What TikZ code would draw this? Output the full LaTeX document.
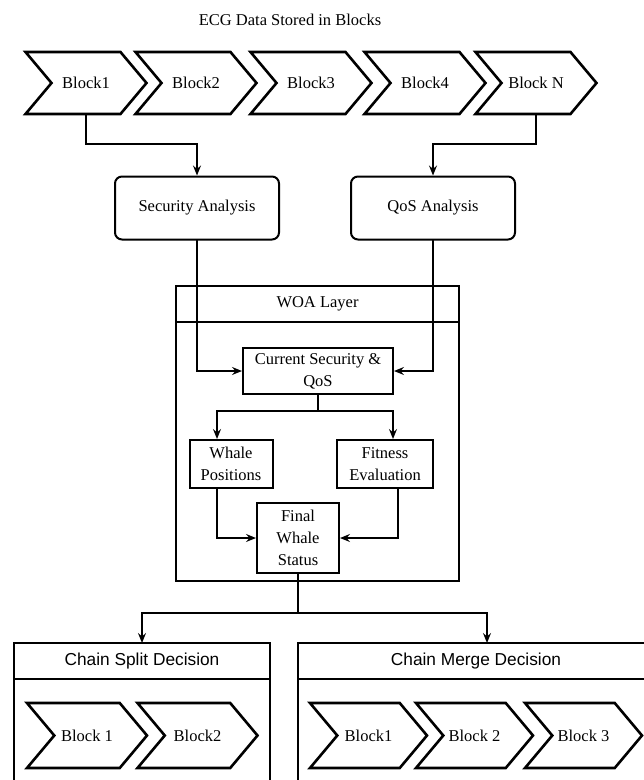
\documentclass[tikz,border=0pt]{standalone}
\usepackage{fontspec}
\setmainfont{Liberation Serif}
\newfontfamily\arialfont{Liberation Sans}
\usetikzlibrary{arrows.meta,shapes.symbols}

\begin{document}
\begin{tikzpicture}[
  x=1pt, y=-1pt,
  >={Stealth[length=10pt,width=8pt,inset=3.5pt]},
  line cap=round,
  every node/.style={font=\fontsize{16.5}{22}\selectfont},
  chevron/.style={signal, signal from=west, signal to=east, signal pointer angle=100, draw, line width=2.6pt, outer sep=0pt, minimum width=121pt, minimum height=62pt, inner sep=0pt},
  analysis/.style={rectangle, rounded corners=7pt, draw, line width=2pt, minimum width=164pt, minimum height=63pt},
  procbox/.style={rectangle, draw, line width=2pt, align=center, inner sep=1pt},
  header/.style={rectangle, draw, line width=2pt, outer sep=0pt},
  frame/.style={rectangle, draw, line width=2pt, outer sep=0pt},
  sanshead/.style={header, font=\arialfont\fontsize{17.3}{20}\selectfont, minimum height=36pt},
  flow/.style={->, line width=2pt},
]
\useasboundingbox (0,0) rectangle (644,780);
\clip (0,0) rectangle (644,780);

\node (title) at (290,20) {ECG Data Stored in Blocks};

% ---------- blocks of ECG data ----------
\node[chevron] (b1) at (86,83)  {Block1};
\node[chevron] (b2) at (196,83) {Block2};
\node[chevron] (b3) at (311,83) {Block3};
\node[chevron] (b4) at (425,83) {Block4};
\node[chevron] (bn) at (536,83) {Block N};

% ---------- analysis ----------
\node[analysis] (sec) at (197,208) {Security Analysis};
\node[analysis] (qos) at (433,208) {QoS Analysis};
\draw[flow] (b1.south) -- ++(0,30) -| (sec.north);
\draw[flow] (bn.south) -- ++(0,30) -| (qos.north);

% ---------- WOA layer ----------
\node[header, minimum width=283pt, minimum height=36pt] (woa) at (317.5,304) {WOA Layer};
\node[frame, minimum width=283pt, minimum height=259pt, anchor=north] (woabody) at (woa.south) {};

\node[procbox, minimum width=150pt, minimum height=46pt] (cur)   at (318,371) {Current Security \&\\QoS};
\node[procbox, minimum width=83pt, minimum height=48pt]  (whale) at (231,464) {Whale\\Positions};
\node[procbox, minimum width=96pt, minimum height=48pt]  (fit)   at (385,464) {Fitness\\Evaluation};
\node[procbox, minimum width=82pt, minimum height=70pt]  (final) at (298,538) {Final\\Whale\\Status};

\draw[flow] (sec.south) |- (cur.west);
\draw[flow] (qos.south) |- (cur.east);
\draw[flow] (cur.south) -- ++(0,16) -| ([xshift=-14pt]whale.north);
\draw[flow] (cur.south) -- ++(0,16) -| ([xshift=8pt]fit.north);
\draw[flow] ([xshift=-14pt]whale.south) |- (final.west);
\draw[flow] ([xshift=13pt]fit.south) |- (final.east);

% ---------- split / merge decision ----------
\node[sanshead, minimum width=256pt] (split) at (142,661) {Chain Split Decision};
\node[frame, minimum width=256pt, minimum height=140pt, anchor=north] (splitbody) at (split.south) {};
\node[sanshead, minimum width=356pt] (merge) at (476,661) {Chain Merge Decision};
\node[frame, minimum width=356pt, minimum height=140pt, anchor=north] (mergebody) at (merge.south) {};

\draw[flow] (final.south) -- ++(0,39) -| (split.north);
\draw[flow] (final.south) -- ++(0,39) -| ([xshift=11pt]merge.north);

\node[chevron, minimum height=65pt, minimum width=120pt] (s1) at (87,735.5)    {Block 1};
\node[chevron, minimum height=65pt, minimum width=120pt] (s2) at (197.5,735.5) {Block2};
\node[chevron, minimum height=65pt, minimum width=117pt] (m1) at (368.5,735.5) {Block1};
\node[chevron, minimum height=65pt, minimum width=117pt] (m2) at (474.5,735.5) {Block 2};
\node[chevron, minimum height=65pt, minimum width=117pt] (m3) at (583.5,735.5) {Block 3};

\end{tikzpicture}
\end{document}
